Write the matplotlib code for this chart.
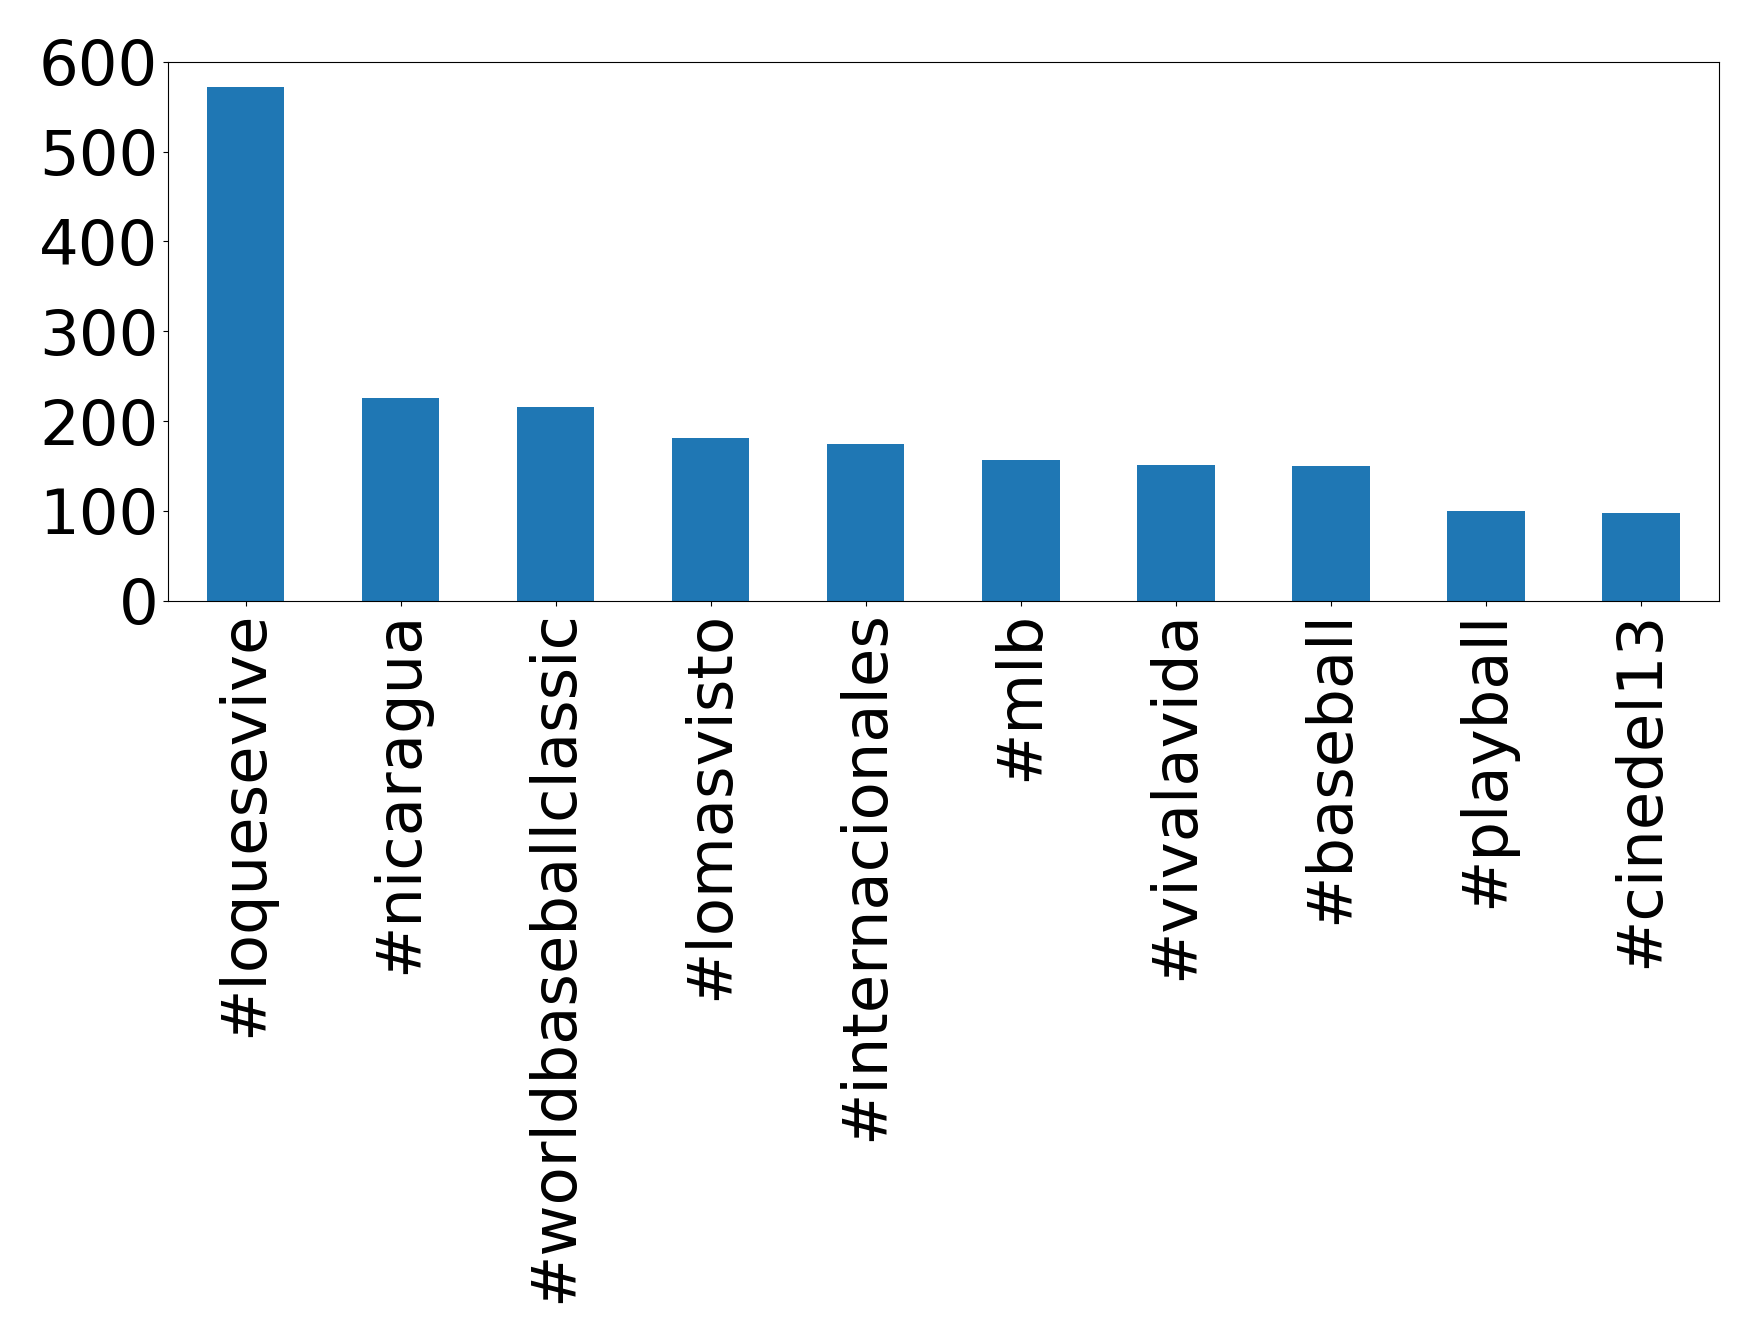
import matplotlib
matplotlib.use("Agg")
import matplotlib.pyplot as plt
import numpy as np

# Hashtag counts
hashtags = ["#loquesevive", "#nicaragua", "#worldbaseballclassic", "#lomasvisto",
            "#internacionales", "#mlb", "#vivalavida", "#baseball",
            "#playball", "#cinedel13"]
counts = [572, 226, 216, 181, 175, 157, 151, 150, 100, 98]

fig = plt.figure(figsize=(17.59, 13.44), dpi=100)
ax = fig.add_axes([0.0955, 0.553, 0.8815, 0.401])

x = np.arange(len(hashtags))
ax.bar(x, counts, width=0.5, color="#1f77b4")
ax.set_xlim(-0.5, len(hashtags) - 0.5)
ax.set_ylim(0, 600)
ax.set_xticks(x)
ax.set_xticklabels(hashtags, rotation=90)
ax.set_yticks(np.arange(0, 601, 100))
ax.tick_params(axis="both", labelsize=45)

fig.savefig("out.png", dpi=100)
